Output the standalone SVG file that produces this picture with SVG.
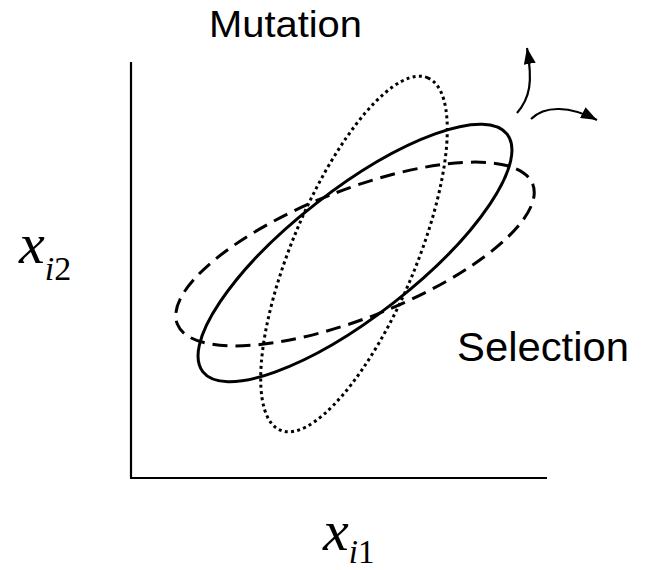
<svg xmlns="http://www.w3.org/2000/svg" width="646" height="570" viewBox="0 0 646 570">
<style>
.lbl{font-family:"Liberation Sans",Arial,sans-serif;fill:#000}
.math{font-family:"Liberation Serif","Times New Roman",serif;fill:#000}
.ell{fill:none;stroke:#000}
.arr{fill:none;stroke:#000;stroke-width:2.2}
</style>
<defs>
<marker id="ah" markerUnits="userSpaceOnUse" markerWidth="18" markerHeight="14" refX="16" refY="6" orient="auto">
<path d="M0,0 L16,6 L0,12 Z" fill="#000"/>
</marker>
</defs>
<g id="axes">
<line x1="131" y1="62" x2="131" y2="478" stroke="#000" stroke-width="2.2"/>
<line x1="130" y1="478" x2="547" y2="478" stroke="#000" stroke-width="2.2"/>
</g>
<g id="ellipse-dotted">
<ellipse class="ell" cx="0" cy="0" rx="191" ry="62" transform="translate(354,254) rotate(-67.3)" stroke-width="3" stroke-dasharray="3,3.3"/>
</g>
<g id="ellipse-dashed">
<ellipse class="ell" cx="0" cy="0" rx="191" ry="64" transform="translate(355,254) rotate(-21.5)" stroke-width="3" stroke-dasharray="15,8"/>
</g>
<g id="ellipse-solid">
<ellipse class="ell" cx="0" cy="0" rx="193" ry="63" transform="translate(355,253) rotate(-38)" stroke-width="3"/>
</g>
<g id="connectors">
<path class="arr" d="M517,113 C530,98 533,82 527,48" marker-end="url(#ah)"/>
<path class="arr" d="M531,119 C545,105 570,106 597,120" marker-end="url(#ah)"/>
</g>
<g id="mutation">
<text class="lbl" x="209" y="37" font-size="37" textLength="153" lengthAdjust="spacingAndGlyphs">Mutation</text>
</g>
<g id="selection">
<text class="lbl" x="457" y="361" font-size="40" textLength="172" lengthAdjust="spacingAndGlyphs">Selection</text>
</g>
<g id="ylabel">
<text class="math" x="19" y="263" font-size="58"><tspan font-style="italic">x</tspan><tspan font-size="34" dy="17" font-style="italic">i</tspan><tspan font-size="34">2</tspan></text>
</g>
<g id="xlabel">
<text class="math" x="323" y="550" font-size="58"><tspan font-style="italic">x</tspan><tspan font-size="33" dy="13" font-style="italic">i</tspan><tspan font-size="33">1</tspan></text>
</g>
</svg>
